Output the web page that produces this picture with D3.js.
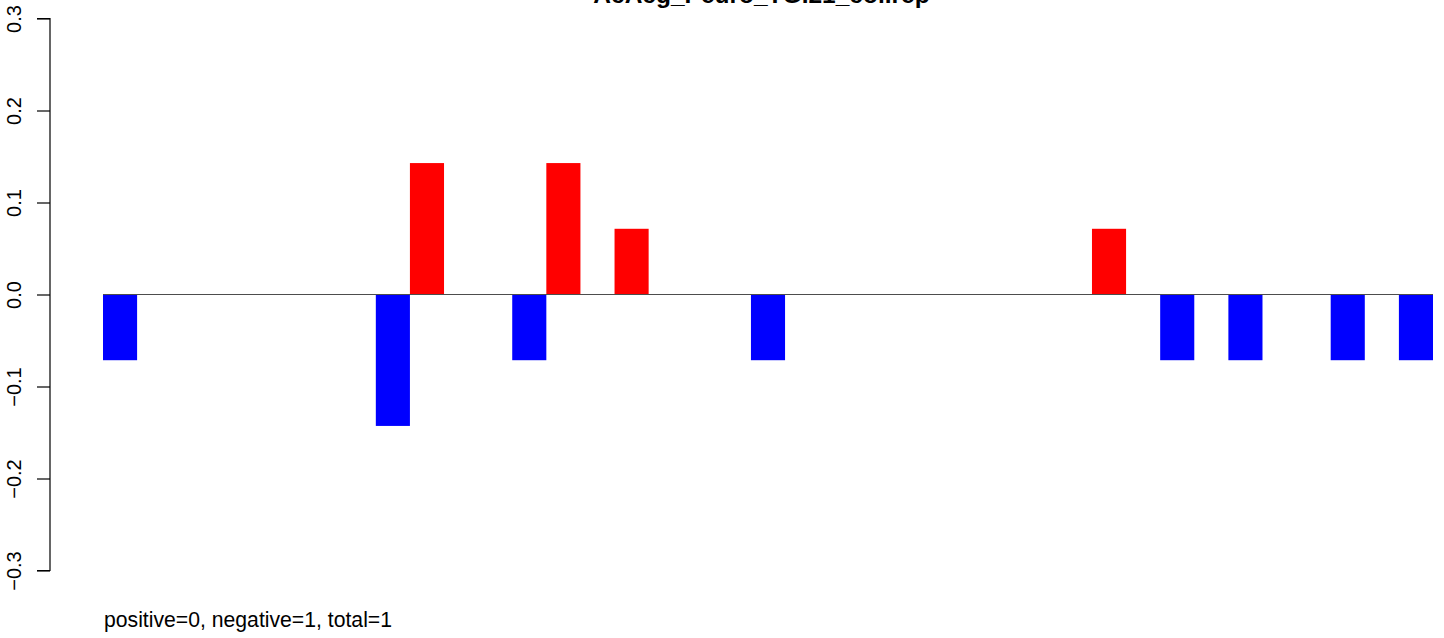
<!DOCTYPE html>
<html>
<head>
<meta charset="utf-8">
<script src="https://cdn.jsdelivr.net/npm/d3@7"></script>
<style>
  html, body { margin: 0; padding: 0; background: #fff; }
  svg { display: block; font-family: "Liberation Sans", Arial, Helvetica, sans-serif; }
</style>
</head>
<body>
<svg id="chart" width="1444" height="638"></svg>
<script>
// ---- data ----
const title = "AcAcg_Peuro_TG.21_col.rep";
const footer = "positive=0, negative=1, total=1";
const categories = d3.range(39); // bar positions 0..38
const values = [
  -1/14, 0, 0, 0, 0, 0, 0, 0, -2/14, 2/14,
  0, 0, -1/14, 2/14, 0, 1/14, 0, 0, 0, -1/14,
  0, 0, 0, 0, 0, 0, 0, 0, 0, 1/14,
  0, -1/14, 0, -1/14, 0, 0, -1/14, 0, -1/14
];
const yTicks = [-0.3, -0.2, -0.1, 0.0, 0.1, 0.2, 0.3];
const yDomain = [-0.3, 0.3];

// ---- layout ----
const svg = d3.select("#chart");
const x = d3.scaleBand().domain(categories).range([103, 1433]).padding(0);
const y = d3.scaleLinear().domain(yDomain).range([570.5, 18.5]);

// bars
svg.append("g").selectAll("rect")
  .data(categories.map(i => ({i, v: values[i]})).filter(d => d.v !== 0))
  .join("rect")
  .attr("x", d => x(d.i))
  .attr("width", x.bandwidth())
  .attr("y", d => y(Math.max(0, d.v)))
  .attr("height", d => Math.abs(y(d.v) - y(0)))
  .attr("fill", d => d.v > 0 ? "#ff0000" : "#0000ff");

// zero line
svg.append("line")
  .attr("x1", x(0)).attr("x2", x(38) + x.bandwidth())
  .attr("y1", y(0)).attr("y2", y(0))
  .attr("stroke", "#4d4d4d").attr("stroke-width", 1);

// y axis
const axis = d3.axisLeft(y).tickValues(yTicks).tickSize(13).tickPadding(0)
  .tickFormat(d3.format(".1f"));
const ag = svg.append("g").attr("transform", "translate(50,0)").call(axis);
ag.select(".domain").attr("d", `M-13,${y(0.3)}H0V${y(-0.3)}H-13`).attr("stroke", "#000").attr("stroke-width", 1.2).attr("fill", "none");
ag.selectAll(".tick line").attr("stroke", "#000").attr("stroke-width", 1.2);
ag.selectAll(".tick text")
  .attr("font-size", "20px")
  .attr("fill", "#000")
  .attr("text-anchor", "middle")
  .attr("x", 0).attr("y", 0).attr("dy", 0)
  .attr("transform", "translate(-29,0) rotate(-90)");
ag.attr("font-family", null).attr("font-size", null);

// title
svg.append("text")
  .attr("x", 761.5).attr("y", 3)
  .attr("text-anchor", "middle")
  .attr("font-weight", "bold")
  .attr("font-size", "24.5px")
  .text(title);

// footer text
svg.append("text")
  .attr("x", 104).attr("y", 627)
  .attr("font-size", "21.2px")
  .text(footer);
</script>
</body>
</html>
